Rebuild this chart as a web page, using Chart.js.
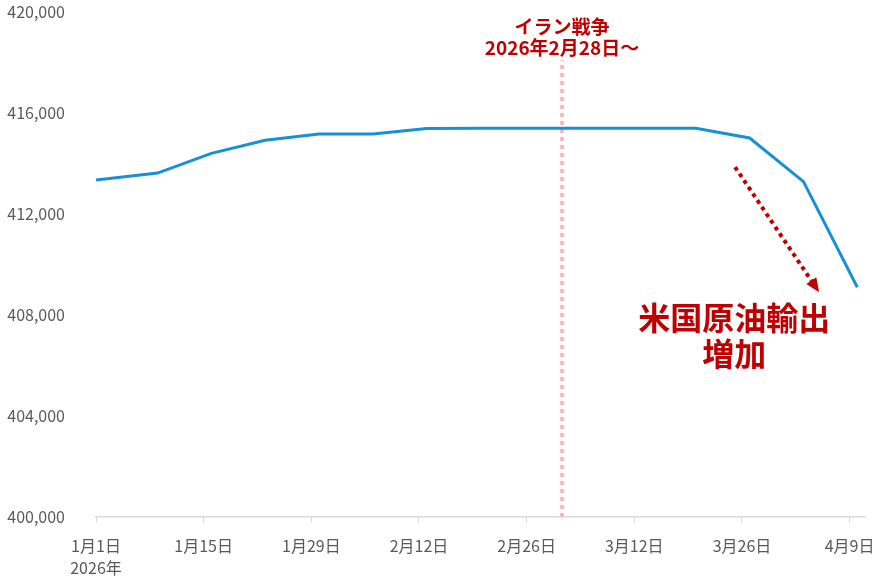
<!DOCTYPE html>
<html>
<head>
<meta charset="utf-8">
<script src="https://cdn.jsdelivr.net/npm/chart.js@4.4.1/dist/chart.umd.min.js"></script>
<style>
  html, body { margin: 0; padding: 0; background: #fff; }
  #wrap { width: 879px; height: 576px; }
</style>
</head>
<body>
<div id="wrap"><canvas id="myChart" width="879" height="576"></canvas></div>
<script>
// 2026年1月1日からの日数
var days = [0, 8, 15, 22, 29, 36, 43, 50, 57, 64, 71, 78, 85, 92, 99];
var values = [413350, 413620, 414400, 414920, 415170, 415170, 415390, 415400, 415400, 415400, 415400, 415400, 415010, 413280, 409100];

var tickDays = [0, 14, 28, 42, 56, 70, 84, 98];
var tickLabels = [['1月1日', '2026年'], '1月15日', '1月29日', '2月12日', '2月26日', '3月12日', '3月26日', '4月9日'];

var warDay = 60.6;           // 縦の点線
var warLabel = ['イラン戦争', '2026年2月28日～'];
var arrowDays = [83.1, 93.6];
var arrowValues = [413860, 409100];
var noteLabel = ['米国原油輸出', '増加'];

var FONT = '"Noto Sans CJK JP", "Noto Sans", sans-serif';
var RED = '#c00000';

var points = days.map(function(d, i) { return { x: d, y: values[i] }; });
var arrowPts = arrowDays.map(function(d, i) { return { x: d, y: arrowValues[i] }; });

// 注記テキストと矢印の先端
var notes = {
    id: 'notes',
    afterDatasetsDraw: function(chart) {
        var ctx = chart.ctx;
        var xs = chart.scales.x, ys = chart.scales.y;
        ctx.save();
        // arrow head
        var x1 = xs.getPixelForValue(arrowDays[0]), y1 = ys.getPixelForValue(arrowValues[0]);
        var x2 = xs.getPixelForValue(arrowDays[1]), y2 = ys.getPixelForValue(arrowValues[1]);
        var a = Math.atan2(y2 - y1, x2 - x1);
        ctx.translate(x2, y2);
        ctx.rotate(a);
        ctx.fillStyle = RED;
        ctx.beginPath();
        ctx.moveTo(6, 0);
        ctx.lineTo(-8, -6);
        ctx.lineTo(-8, 6);
        ctx.closePath();
        ctx.fill();
        ctx.restore();

        ctx.save();
        ctx.fillStyle = RED;
        ctx.textAlign = 'center';
        ctx.textBaseline = 'middle';
        var wx = xs.getPixelForValue(warDay);
        ctx.font = 'bold 19px ' + FONT;
        ctx.fillText(warLabel[0], wx, 27);
        ctx.fillText(warLabel[1], wx, 48);

        ctx.font = 'bold 32px ' + FONT;
        var nx = xs.getPixelForValue(83);
        ctx.fillText(noteLabel[0], nx, 318);
        ctx.fillText(noteLabel[1], nx, 354);
        ctx.restore();
    }
};

var ctx = document.getElementById('myChart').getContext('2d');
var myChart = new Chart(ctx, {
    type: 'line',
    data: {
        datasets: [{
            data: points,
            borderColor: '#1890d5',
            borderWidth: 3,
            pointRadius: 0,
            tension: 0,
            order: 1
        }, {
            // 戦争開始の縦線
            data: [{ x: warDay, y: 400000 }, { x: warDay, y: 418100 }],
            borderColor: '#f4b4b4',
            borderWidth: 3.5,
            borderDash: [4, 4],
            pointRadius: 0,
            order: 2
        }, {
            // 点線の矢印
            data: arrowPts,
            borderColor: RED,
            borderWidth: 4,
            borderDash: [4, 4],
            pointRadius: 0,
            order: 0
        }]
    },
    options: {
        responsive: false,
        animation: false,
        layout: { padding: { top: 12, right: 14, left: 0, bottom: 0 } },
        plugins: {
            legend: { display: false },
            tooltip: { enabled: false },
            title: { display: false }
        },
        scales: {
            x: {
                type: 'linear',
                min: 0,
                max: 100,
                afterBuildTicks: function(axis) {
                    axis.ticks = tickDays.map(function(v) { return { value: v }; });
                },
                afterFit: function(axis) {
                    axis.height = 59;
                    axis.paddingLeft = 0;
                    axis.paddingRight = 0;
                },
                ticks: {
                    autoSkip: false,
                    maxRotation: 0,
                    padding: 12,
                    color: '#595959',
                    font: { family: FONT, size: 16, lineHeight: 1.38 },
                    callback: function(v) {
                        var i = tickDays.indexOf(v);
                        return i >= 0 ? tickLabels[i] : '';
                    }
                },
                grid: {
                    drawOnChartArea: false,
                    drawTicks: true,
                    tickLength: 6,
                    color: '#d9d9d9'
                },
                border: { display: true, color: '#d9d9d9', width: 1.5 }
            },
            y: {
                min: 400000,
                max: 420000,
                afterFit: function(axis) {
                    axis.width = 96;
                    axis.paddingTop = 0;
                    axis.paddingBottom = 0;
                },
                ticks: {
                    stepSize: 4000,
                    padding: 23,
                    color: '#595959',
                    font: { family: FONT, size: 16 },
                    callback: function(v) { return v.toLocaleString('en-US'); }
                },
                grid: { display: false },
                border: { display: false }
            }
        }
    },
    plugins: [notes]
});
</script>
</body>
</html>
